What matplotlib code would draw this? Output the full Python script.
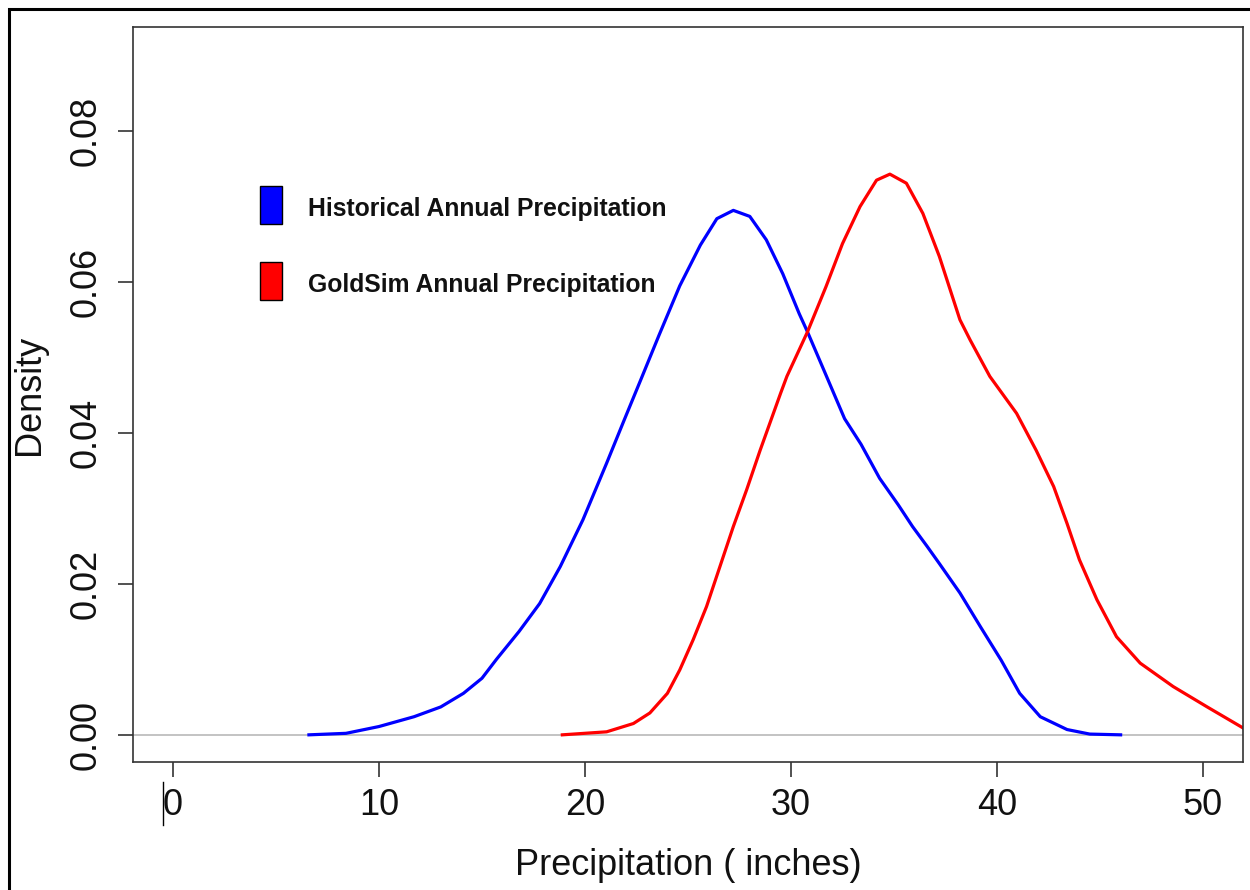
import matplotlib
matplotlib.use("Agg")
import matplotlib.pyplot as plt
from matplotlib.patches import Rectangle
from matplotlib.lines import Line2D

plt.rcParams['font.family'] = ['Liberation Sans', 'DejaVu Sans']

# density curves (x in inches, y = density)
hist_x = [6.6, 8.4, 10.0, 11.7, 13.0, 14.1, 15.0, 15.7, 16.8, 17.8, 18.8, 19.9,
          21.05, 21.9, 22.7, 23.6, 24.6, 25.6, 26.4, 27.2, 28.0, 28.8, 29.6,
          30.4, 30.8, 31.6, 32.6, 33.4, 34.3, 35.2, 35.9, 36.6, 37.2, 38.2,
          39.2, 40.2, 41.1, 42.1, 43.4, 44.5, 46.0]
hist_y = [0.0, 0.0002, 0.0011, 0.0024, 0.0037, 0.0055, 0.0075, 0.0100, 0.0137,
          0.0174, 0.0223, 0.0285, 0.0360, 0.0417, 0.0470, 0.0530, 0.0595,
          0.0649, 0.0684, 0.0695, 0.0687, 0.0656, 0.0611, 0.0558, 0.0534,
          0.0483, 0.0419, 0.0385, 0.0340, 0.0305, 0.0276, 0.0250, 0.0227,
          0.0188, 0.0143, 0.0099, 0.0055, 0.0024, 0.0007, 0.0001, 0.0]

gold_x = [18.9, 21.05, 22.35, 23.15, 24.0, 24.6, 25.25, 25.9, 26.55, 27.2,
          27.85, 28.5, 29.5, 29.8, 30.8, 31.7, 32.5, 33.35, 34.15, 34.8, 35.6,
          36.4, 37.2, 38.2, 38.7, 39.65, 40.95, 41.9, 42.75, 43.4, 44.0, 44.85,
          45.8, 46.95, 48.55, 50.2, 51.95, 53.0]
gold_y = [0.0, 0.0004, 0.0015, 0.0029, 0.0055, 0.0086, 0.0126, 0.0170, 0.0223,
          0.0276, 0.0325, 0.0377, 0.0453, 0.0475, 0.0534, 0.0594, 0.0651,
          0.0700, 0.0735, 0.0743, 0.0731, 0.0691, 0.0634, 0.0550, 0.0523,
          0.0475, 0.0426, 0.0377, 0.0329, 0.0280, 0.0232, 0.0179, 0.0130,
          0.0095, 0.0064, 0.0037, 0.0009, 0.0002]

labels = ["Historical Annual Precipitation", "GoldSim Annual Precipitation"]
colors = ["#0000FF", "#FF0000"]
xticks = [0, 10, 20, 30, 40, 50]
yticks = [0.00, 0.02, 0.04, 0.06, 0.08]

W, H = 1250, 890
fig = plt.figure(figsize=(12.5, 8.9), dpi=100)
ax = fig.add_axes([133 / W, 1 - 762 / H, (1243 - 133) / W, (762 - 27) / H])

ax.axhline(0, color="#BEBEBE", lw=1.3, zorder=1)
ax.plot(hist_x, hist_y, color=colors[0], lw=2.3, zorder=2)
ax.plot(gold_x, gold_y, color=colors[1], lw=2.3, zorder=2)

ax.set_xlim(-1.94, 51.94)
ax.set_ylim(-0.0036, 0.0938)
ax.set_xticks(xticks)
ax.set_xticklabels([str(t) for t in xticks])
ax.set_yticks(yticks)
ax.set_yticklabels(["%.2f" % t for t in yticks], rotation=90, va="center")

for s in ax.spines.values():
    s.set_color("#333333")
    s.set_linewidth(1.2)
ax.tick_params(axis="both", length=11, width=1.2, color="#333333",
               labelsize=26, labelcolor="#111111")
ax.tick_params(axis="x", pad=8)
ax.tick_params(axis="y", pad=10.5)

ax.set_xlabel("Precipitation ( inches)", fontsize=26, color="#111111", labelpad=18)
ax.set_ylabel("Density", fontsize=26, color="#111111", labelpad=15)

# legend: filled boxes with bold labels, placed like the R legend
for i, (lab, col) in enumerate(zip(labels, colors)):
    top = 186 + i * 76
    fig.add_artist(Rectangle((260 / W, 1 - (top + 38) / H), 22 / W, 38 / H,
                             transform=fig.transFigure, facecolor=col,
                             edgecolor="black", lw=1.0))
    fig.text(308 / W, 1 - (top + 30) / H, lab, fontsize=17.8, fontweight="bold",
             color="#111111", va="baseline", ha="left")

# outer frame of the exported picture and the stray mark next to the 0 label
fig.add_artist(Rectangle((9 / W, -0.1), 1.2, 1 - 9 / H + 0.1, transform=fig.transFigure,
                         fill=False, edgecolor="black", lw=2.2))
fig.add_artist(Line2D([163 / W, 163 / W], [1 - 782 / H, 1 - 825 / H],
                      transform=fig.transFigure, color="black", lw=1.0))

fig.savefig("out.png", dpi=100)
